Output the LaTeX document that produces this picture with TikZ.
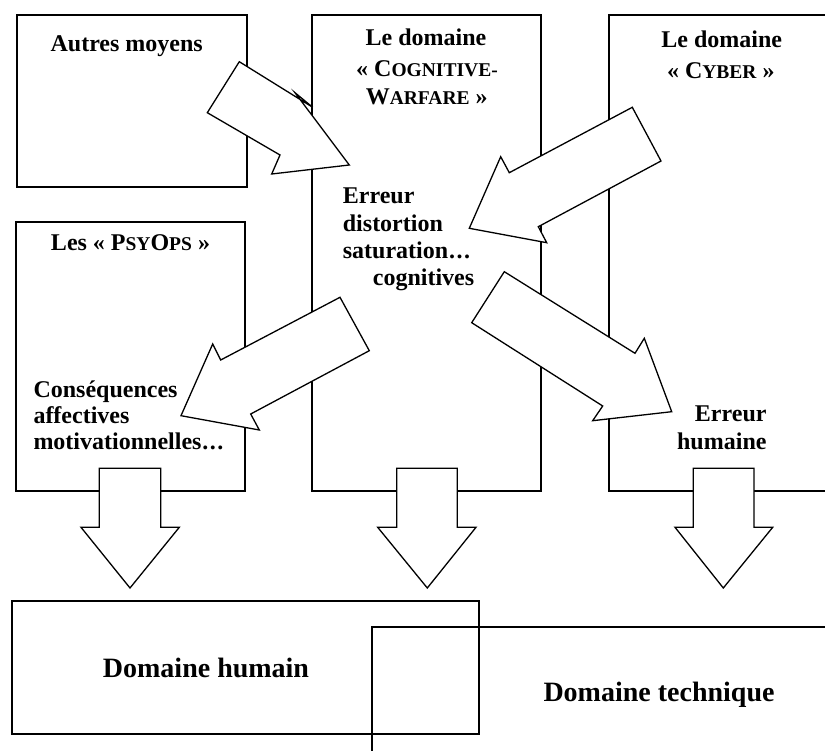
\documentclass[tikz,border=0pt]{standalone}
\usepackage{fontspec}
\setmainfont{Liberation Serif}
\newcommand\fsc[1]{{\fontsize{19.5}{29}\selectfont #1}}
\newcommand\mydots{\kern1pt.\kern1.5pt.\kern1.5pt.}
\begin{document}
\begin{tikzpicture}[x=1pt,y=-1pt,
  box/.style={draw, line width=1.3pt, inner sep=0pt, outer sep=0pt, anchor=north west},
  blockarrow/.style={draw, fill=white, line width=1.3pt, line join=miter},
  lbl/.style={font=\bfseries\fontsize{24}{29}\selectfont, inner sep=0pt},
  big/.style={font=\bfseries\fontsize{28}{33}\selectfont, inner sep=0pt}]
\useasboundingbox (0,0) rectangle (825,751);
\fill[white] (0,0) rectangle (825,751);
\clip (0,0) rectangle (825,751);
% boxes
\node[box, minimum width=230pt, minimum height=172pt] (autres) at (17,15) {};
\node[box, minimum width=229pt, minimum height=476pt] (cog) at (312,15) {};
\node[box, minimum width=300pt, minimum height=476pt] (cyber) at (609,15) {};
\node[box, minimum width=229pt, minimum height=269pt] (psy) at (16,222) {};
\node[box, minimum width=467pt, minimum height=133pt] (hum) at (12,601) {};
\node[box, minimum width=520pt, minimum height=200pt] (tech) at (372,627) {};
% slanted block arrows
\draw[blockarrow] (239.3,61.7) -- (312.7,107.3) -- (295,92.7) -- (349.3,165) -- (271.7,174) -- (280,155) -- (207.3,112.7) -- cycle;
\draw[blockarrow] (632.3,107.3) -- (509.3,172.7) -- (500.7,156.7) -- (469.3,228.3) -- (546.7,242.7) -- (538.3,226.7) -- (661,161) -- cycle;
\draw[blockarrow] (340,297.3) -- (220.7,360) -- (212.7,344) -- (181,415.7) -- (259.3,430) -- (250.7,414) -- (369.3,350.7) -- cycle;
\draw[blockarrow] (504.3,271.7) -- (635,353.3) -- (644.3,338.3) -- (671.7,411.7) -- (592.7,420.7) -- (602.7,406) -- (471.7,322.7) -- cycle;
% down block arrows
\draw[blockarrow] (99.3,468.3) -- (160.7,468.3) -- (160.7,527.3) -- (179.3,527.3) -- (130,588) -- (81,527.3) -- (99.3,527.3) -- cycle;
\draw[blockarrow] (396.7,468.3) -- (457.3,468.3) -- (457.3,527.3) -- (476,527.3) -- (427.3,588) -- (377.7,527.3) -- (396.7,527.3) -- cycle;
\draw[blockarrow] (693.3,468.3) -- (754,468.3) -- (754,527.3) -- (772.7,527.3) -- (723.3,588) -- (675,527.3) -- (693.3,527.3) -- cycle;
% labels
\node[lbl, anchor=base] (t1) at (126.7,52) {Autres moyens};
\node[lbl, anchor=base] (t2) at (426,45.5) {Le domaine};
\node[lbl, anchor=base] (t3) at (427,77) {«~C\fsc{OGNITIVE-}};
\node[lbl, anchor=base] (t4) at (426.7,105) {W\fsc{ARFARE}~»};
\node[lbl, anchor=base] (t5) at (721.7,48) {Le domaine};
\node[lbl, anchor=base] (t6) at (720.8,78.5) {«~C\fsc{YBER}~»};
\node[lbl, anchor=base] (t7) at (130.5,251) {Les «~P\fsc{SY}O\fsc{PS}~»};
\node[lbl, anchor=base west] (t8) at (342.7,204) {Erreur};
\node[lbl, anchor=base west] (t9) at (342.7,232) {distortion};
\node[lbl, anchor=base west] (t10) at (342.7,259) {saturation\mydots};
\node[lbl, anchor=base west] (t11) at (372.7,286) {cognitives};
\node[lbl, anchor=base west] (t12) at (33.3,398) {Conséquences};
\node[lbl, anchor=base west] (t13) at (33.3,424) {affectives};
\node[lbl, anchor=base west] (t14) at (33.3,449) {motivationnelles\mydots};
\node[lbl, anchor=base east] (t15) at (766.7,421) {Erreur};
\node[lbl, anchor=base east] (t16) at (766.7,449) {humaine};
\node[big, anchor=base] (t17) at (206,677.5) {Domaine humain};
\node[big, anchor=base] (t18) at (659,701) {Domaine technique};
\end{tikzpicture}
\end{document}
